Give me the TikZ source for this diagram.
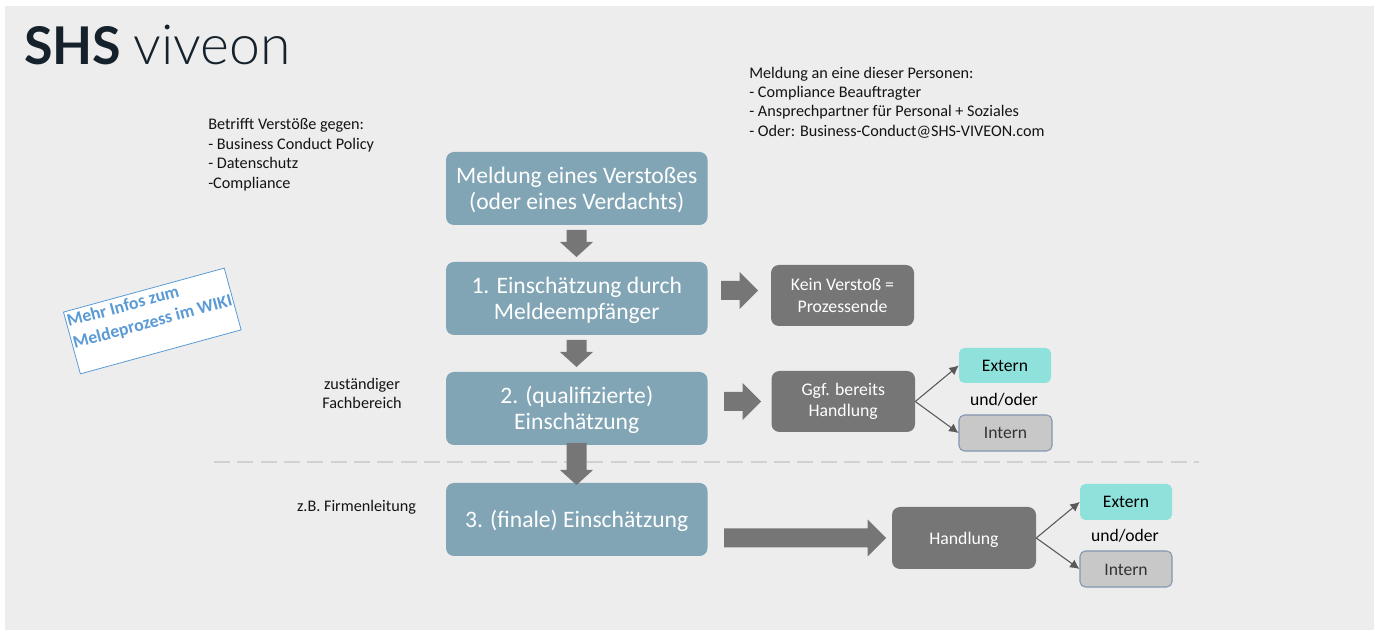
\documentclass[tikz,border=0pt]{standalone}
\usepackage{fontspec}
\setmainfont{Carlito}
\newfontfamily\logobold{Lato}[BoldFont={Lato Bold}]
\newfontfamily\logolight{Lato Light}
\usetikzlibrary{calc,arrows.meta}
\definecolor{pagebg}{HTML}{EDEDED}
\definecolor{bluebox}{HTML}{81A5B5}
\definecolor{grayarrow}{HTML}{767676}
\definecolor{tealbox}{HTML}{8EE2DB}
\definecolor{internbox}{HTML}{C8C8C8}
\definecolor{internline}{HTML}{8496B0}
\definecolor{wiki}{HTML}{5B9BD5}
\definecolor{logoink}{HTML}{15222B}
\newcommand{\fs}[2]{\fontsize{#1}{#2}\selectfont}
\newcommand{\lowered}[2]{\raisebox{-#1}[\height][\depth]{#2}}
\tikzset{
  x=0.75pt,y=-0.75pt,
  boxblue/.style={fill=bluebox,rounded corners=6pt,text=white,align=center,font=\fs{17.7}{19.6}},
  boxgray/.style={fill=grayarrow,rounded corners=6pt,text=white,align=center,font=\fs{13.3}{15.8}},
  ext/.style={fill=tealbox,rounded corners=4pt,align=center,font=\fs{13.2}{15}},
  int/.style={fill=internbox,draw=internline,line width=0.8pt,rounded corners=4pt,align=center,font=\fs{13.2}{15}},
  note/.style={align=left,anchor=north west,inner sep=0pt,font=\fs{12.15}{14.55},text=black!92},
  blockarrow/.style={fill=grayarrow},
  thinarrow/.style={draw=black!65,line width=0.8pt,-{Latex[length=7pt,width=7pt]}},
}
\newcommand{\placebox}[7]{\node[#1,minimum width=(#4-#3)*0.75pt,minimum height=(#6-#5)*0.75pt,inner sep=0pt] (#2) at ({(#3+#4)/2},{(#5+#6)/2}) {#7};}
\newcommand{\downblock}[3]{\fill[blockarrow] (#1-10,#2) -- (#1+10,#2) -- (#1+10,#3-15) -- (#1+16.5,#3-15) -- (#1,#3) -- (#1-16.5,#3-15) -- (#1-10,#3-15) -- cycle;}
\newcommand{\rightblock}[4]{\fill[blockarrow] (#1,#4-9.5) -- (#2-18.5,#4-9.5) -- (#2-18.5,#4-18.5) -- (#2,#4) -- (#2-18.5,#4+18.5) -- (#2-18.5,#4+9.5) -- (#1,#4+9.5) -- cycle;}
\begin{document}
\begin{tikzpicture}
\useasboundingbox (0,0) rectangle (1379,630);
\fill[white] (0,0) rectangle (1379,630);
\fill[pagebg] (5,6) rectangle (1374,630);
% logo
\node[inner sep=0pt,anchor=base west,text=logoink,font=\fs{39}{39}] (logoa) at (24,65) {\logobold\bfseries SHS};
\node[inner sep=0pt,anchor=base west,text=logoink,font=\fs{41.5}{41.5}] (logob) at (133,65) {\logolight viveon};
% notes
\node[note] (n1) at (208,118.5) {Betrifft Verstöße gegen:\\- Business Conduct Policy\\- Datenschutz\\-Compliance};
\node[note] (n2) at (749,66.5) {Meldung an eine dieser Personen:\\- Compliance Beauftragter\\- Ansprechpartner für Personal + Soziales\\- Oder: Business-Conduct@SHS-VIVEON.com};
\node[align=center,inner sep=0pt,font=\fs{12.15}{14.55},text=black!92] (n3) at (362,393.5) {zuständiger\\Fachbereich};
\node[inner sep=0pt,font=\fs{12.15}{14.55},text=black!92] (n4) at (356.5,507) {z.B. Firmenleitung};
% dashed rule
\coordinate (da) at (214,462);
\coordinate (db) at (1199,462);
\draw[draw=black!18,line width=1.4pt,dash pattern=on 12pt off 5.5pt] (da) -- (db);
% blue boxes
\placebox{boxblue}{b0}{446}{707.5}{152}{225}{\lowered{1.2pt}{Meldung eines Verstoßes}\\\lowered{1.2pt}{(oder eines Verdachts)}}
\placebox{boxblue}{b1}{446}{707.5}{262}{335}{\lowered{1.2pt}{1. Einschätzung durch}\\\lowered{1.2pt}{Meldeempfänger}}
\placebox{boxblue}{b2}{446}{707.5}{372}{445}{\lowered{1.2pt}{2. (qualifizierte)}\\\lowered{1.2pt}{Einschätzung}}
\placebox{boxblue}{b3}{446}{707.5}{483}{556}{\lowered{1.2pt}{3. (finale) Einschätzung}}
% block arrows
\downblock{576.5}{230}{257}
\downblock{576.5}{340}{367}
\downblock{576.5}{443}{485}
\rightblock{721}{758}{}{290.5}
\rightblock{724}{761}{}{401.5}
\rightblock{724}{886}{}{538}
% grey boxes
\placebox{boxgray}{g1}{771}{914}{265}{326}{Kein Verstoß =\\Prozessende}
\placebox{boxgray}{g2}{771.5}{915}{371}{432}{Ggf. bereits\\Handlung}
\placebox{boxgray}{g3}{892}{1036}{507}{569}{\lowered{1.5pt}{Handlung}}
% results
\placebox{ext}{e1}{959}{1051}{348}{383}{Extern}
\placebox{int}{i1}{959}{1052}{415}{451}{\textcolor{black!80}{Intern}}
\placebox{ext}{e2}{1080}{1172}{484}{520}{Extern}
\placebox{int}{i2}{1080}{1172}{551}{587}{\textcolor{black!80}{\lowered{0.7pt}{Intern}}}
\node[inner sep=0pt,font=\fs{13.2}{15}] (u1) at (1004,400) {und/oder};
\node[inner sep=0pt,font=\fs{13.2}{15}] (u2) at (1125,536) {und/oder};
\draw[thinarrow] (g2.east) -- (e1.west);
\draw[thinarrow] (g2.east) -- (i1.west);
\draw[thinarrow] (g3.east) -- (e2.west);
\draw[thinarrow] (g3.east) -- (i2.west);
% wiki note
\node[draw=wiki,fill=white,line width=0.6pt,rotate=15.3,inner sep=0pt,text=wiki] (w) at (152.3,321)
  {\parbox[c][48pt][t]{125pt}{\vspace{2.5pt}\fontsize{13.3}{17}\selectfont\bfseries\hspace*{1pt}Mehr Infos zum\\\hspace*{1pt}Meldeprozess im WIKI}};
\end{tikzpicture}
\end{document}
